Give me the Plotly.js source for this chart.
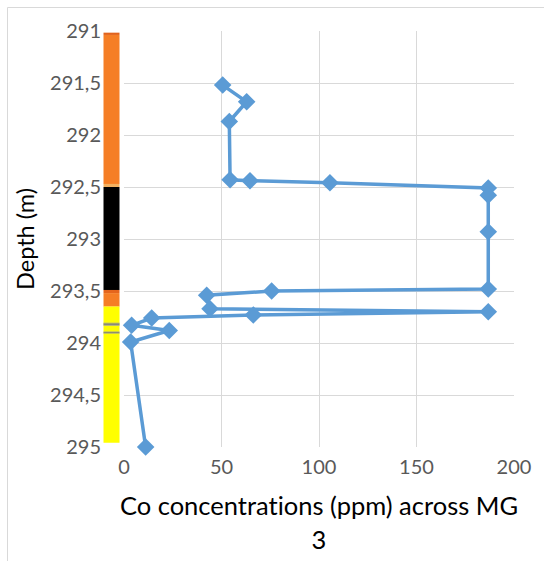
<!DOCTYPE html>
<html>
<head>
<meta charset="utf-8">
<script src="https://cdn.plot.ly/plotly-3.0.1.min.js"></script>
<style>
  html, body { margin: 0; padding: 0; background: #ffffff; }
  #chart { width: 544px; height: 561px; }
  #chart text, #chart tspan {
    font-variant-ligatures: none !important;
    font-feature-settings: "liga" 0, "clig" 0, "dlig" 0 !important;
  }
</style>
</head>
<body>
<div id="chart"></div>
<script>
// Co concentration (ppm) against depth (m) across MG 3
const depth = [291.52, 291.68, 291.87, 292.43, 292.44, 292.46, 292.51, 292.58, 292.93, 293.48,
               293.50, 293.54, 293.67, 293.70, 293.73, 293.76, 293.83, 293.88, 293.99, 295.00];
const co = [50.6, 62.9, 54.0, 54.4, 64.6, 105.6, 186.8, 186.8, 186.8, 186.8,
            75.7, 42.4, 44.1, 186.8, 66.3, 14.2, 3.9, 23.2, 3.4, 11.1];

// Depth tick labels (comma decimal)
const yTickVals = [291, 291.5, 292, 292.5, 293, 293.5, 294, 294.5, 295];
const yTickText = ['291', '291,5', '292', '292,5', '293', '293,5', '294', '294,5', '295'];
const xTickVals = [0, 50, 100, 150, 200];

// Lithology column beside the depth axis
const layerTop    = [291.016, 291.038, 292.47, 292.50, 293.49, 293.52, 293.65, 293.805, 293.812, 293.826, 293.89, 293.897, 293.905];
const layerBottom = [291.038, 292.47, 292.50, 293.49, 293.52, 293.65, 294.96, 293.812, 293.826, 293.834, 293.897, 293.905, 293.91];
const layerColor  = ['#E2631C', '#F57E25', '#F2B060', '#000000', '#E5651C', '#F57E25', '#FFFF00',
                     '#A0A0A0', '#7A7A86', '#A0A0A0', '#9A9A9A', '#6A6A90', '#A0A0A0'];

const plotLeft = 124, plotRight = 514, plotTop = 31, plotBottom = 447;
const W = 544, H = 561;
const pw = plotRight - plotLeft, ph = plotBottom - plotTop;
const px = v => (v - plotLeft) / pw;
const py = v => (plotBottom - v) / ph;

const shapes = layerTop.map((t, i) => ({
  type: 'rect', xref: 'paper', yref: 'y',
  x0: px(103.5), x1: px(119.5), y0: t, y1: layerBottom[i],
  fillcolor: layerColor[i], line: { width: 0 }, layer: 'above'
}));

// chart frame
shapes.push({
  type: 'rect', xref: 'paper', yref: 'paper',
  x0: px(7.5), x1: px(560), y0: py(580), y1: py(7.5),
  line: { color: '#D9D9D9', width: 1 }, fillcolor: 'rgba(0,0,0,0)', layer: 'below'
});

const trace = {
  x: co, y: depth, type: 'scatter', mode: 'lines+markers',
  line: { color: '#5B9BD5', width: 3.5 },
  marker: { symbol: 'diamond', size: 13.5, color: '#5B9BD5' },
  cliponaxis: false, hoverinfo: 'x+y'
};

const layout = {
  width: W, height: H,
  margin: { l: plotLeft, r: W - plotRight, t: plotTop, b: H - plotBottom, pad: 0 },
  paper_bgcolor: '#ffffff', plot_bgcolor: '#ffffff',
  showlegend: false,
  font: { family: 'Lato, "Open Sans", sans-serif', color: '#595959', size: 20 },
  xaxis: {
    range: [0, 200], tickvals: xTickVals, showgrid: true, gridcolor: '#D9D9D9', gridwidth: 1,
    zeroline: false, showline: false, ticks: '', ticklabelstandoff: 6,
    tickfont: { size: 20, color: '#595959' },
    title: { text: 'Co concentrations (ppm) across MG<br>3', font: { size: 25.5, color: '#000000' }, standoff: 20 }
  },
  yaxis: {
    range: [295, 291], tickvals: yTickVals, ticktext: yTickText, showgrid: true, gridcolor: '#D9D9D9', gridwidth: 1,
    zeroline: false, showline: false, ticks: '', ticklabelstandoff: 22,
    tickfont: { size: 20, color: '#595959' },
    title: { text: 'Depth (m)', font: { size: 23.5, color: '#000000' }, standoff: 8 }
  },
  shapes: shapes
};

Plotly.newPlot('chart', [trace], layout, { displayModeBar: false, staticPlot: true });
</script>
</body>
</html>
